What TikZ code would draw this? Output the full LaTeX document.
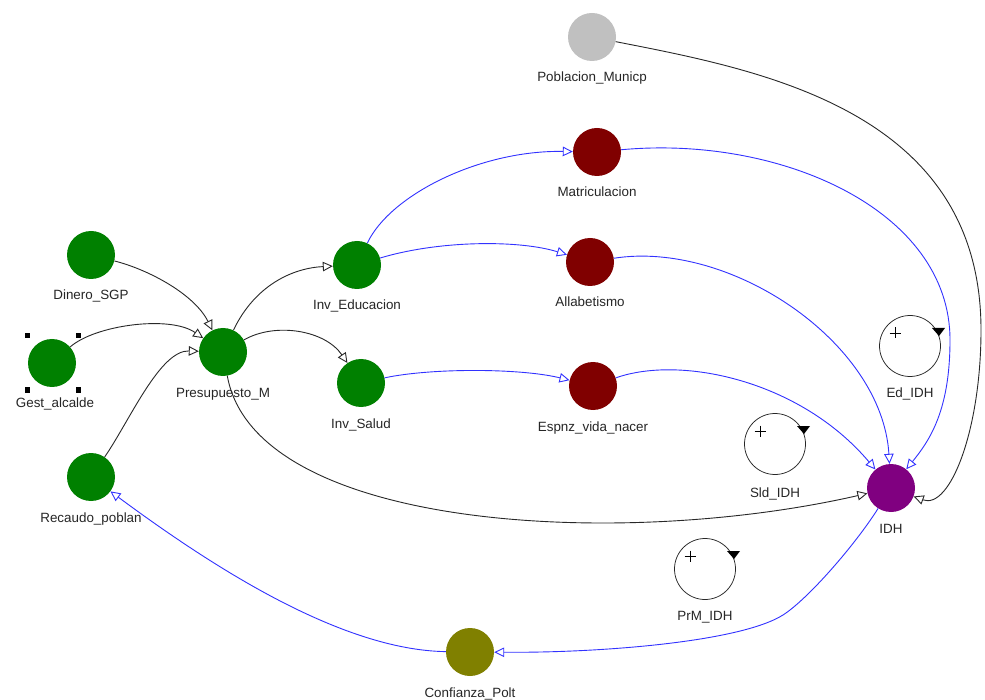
\documentclass[tikz,border=0pt]{standalone}
\usepackage{fontspec}
\setmainfont{Liberation Sans}
\usetikzlibrary{arrows.meta}

\definecolor{vargreen}{RGB}{0,128,0}
\definecolor{varred}{RGB}{128,0,0}
\definecolor{varpurple}{RGB}{128,0,128}
\definecolor{varolive}{RGB}{128,128,0}
\definecolor{vargray}{RGB}{192,192,192}
\definecolor{linkblue}{RGB}{50,50,255}
\definecolor{linkdark}{RGB}{40,40,40}

\tikzset{
  var/.style={circle, minimum size=48pt, inner sep=0pt, fill=#1},
  lbl/.style={anchor=base, inner sep=0pt, font=\fontsize{13.4}{15}\selectfont, text=black!85},
  link/.style={line width=0.9pt, draw=linkdark, -{Triangle[open,length=10pt,width=9.5pt]}},
  blink/.style={link, draw=linkblue},
  loopring/.style={circle, draw=black!85, line width=0.75pt, minimum size=61pt, inner sep=0pt},
}

% loop symbol: ring, plus sign and a filled arrow head at the upper right
\newcommand\feedbackloop[5]{%
  \node[loopring] (#1) at (#2,#3) {};
  \draw[line width=0.7pt] ([shift={(-20.5,-13)}]#1.center) -- ++(11,0);
  \draw[line width=0.7pt] ([shift={(-15,-18.5)}]#1.center) -- ++(0,11);
  \fill ([shift={(22,-18)}]#1.center) -- ++(13,0) -- ++(-6,8) -- cycle;
  \node[lbl] (#1-l) at (#2,#3+#4) {#5};
}

\begin{document}
\begin{tikzpicture}[x=1pt,y=-1pt]
\useasboundingbox (0,0) rectangle (985,700);
\fill[white] (0,0) rectangle (985,700);

% variables
\node[var=vargray]   (Poblacion) at (592,37) {};
\node[var=varred]    (Matric)    at (597,152) {};
\node[var=varred]    (Alfab)     at (590,262) {};
\node[var=varred]    (Espnz)     at (593,386) {};
\node[var=vargreen]  (Dinero)    at (91,255) {};
\node[var=vargreen]  (Gest)      at (52,363) {};
\node[var=vargreen]  (Presup)    at (223,352) {};
\node[var=vargreen]  (Recaudo)   at (91,477) {};
\node[var=vargreen]  (InvEdu)    at (357,265) {};
\node[var=vargreen]  (InvSalud)  at (361,383) {};
\node[var=varpurple] (IDH)       at (891,488) {};
\node[var=varolive]  (Confianza) at (470,652) {};

% names under the variables
\node[lbl] (Poblacion-l) at (592,82)  {Poblacion\_Municp};
\node[lbl] (Matric-l)    at (597,197) {Matriculacion};
\node[lbl] (Alfab-l)     at (590,307) {Allabetismo};
\node[lbl] (Espnz-l)     at (593,431) {Espnz\_vida\_nacer};
\node[lbl] (Dinero-l)    at (91,300)  {Dinero\_SGP};
\node[lbl] (Gest-l)      at (55,407)  {Gest\_alcalde};
\node[lbl] (Presup-l)    at (223,397) {Presupuesto\_M};
\node[lbl] (Recaudo-l)   at (91,522)  {Recaudo\_poblan};
\node[lbl] (InvEdu-l)    at (357,310) {Inv\_Educacion};
\node[lbl] (InvSalud-l)  at (361,428) {Inv\_Salud};
\node[lbl] (IDH-l)       at (891,533) {IDH};
\node[lbl] (Confianza-l) at (470,697) {Confianza\_Polt};

% selection handles around Gest_alcalde
\foreach \hx/\hy in {27/336, 78/336, 27/390, 78/390}
  \fill (\hx-2.5,\hy-2.5) rectangle ++(5,5);

% loop markers
\feedbackloop{EdIDH}{910}{346}{52}{Ed\_IDH}
\feedbackloop{SldIDH}{775}{444}{53}{Sld\_IDH}
\feedbackloop{PrMIDH}{705}{569}{51}{PrM\_IDH}

% budget links
\draw[link] (Dinero) .. controls (150,270) and (195,295) .. (Presup);
\draw[link] (Gest) .. controls (95,325) and (170,315) .. (Presup);
\draw[link] (Recaudo) .. controls (130,420) and (160,350) .. (Presup);
\draw[link] (Presup) .. controls (255,285) and (293,268) .. (InvEdu);
\draw[link] (Presup) .. controls (275,322) and (325,330) .. (InvSalud);
\draw[link] (Presup) .. controls (255,530) and (620,550) .. (IDH);

% investment to outcomes
\draw[blink] (InvEdu) .. controls (390,195) and (480,150) .. (Matric);
\draw[blink] (InvEdu) .. controls (440,240) and (520,240) .. (Alfab);
\draw[blink] (InvSalud) .. controls (430,368) and (520,368) .. (Espnz);

% outcomes to IDH
\draw[blink] (Matric) .. controls (780,135) and (950,210) .. (950,340)
                      .. controls (950,410) and (930,440) .. (IDH);
\draw[blink] (Alfab) .. controls (730,240) and (882,342) .. (IDH);
\draw[blink] (Espnz) .. controls (680,355) and (800,380) .. (IDH);
\draw[link] (Poblacion) .. controls (760,70) and (981,110) .. (981,330)
                        .. controls (981,430) and (950,510) .. (IDH);

% feedback through confidence
\draw[blink] (IDH) .. controls (855,545) and (808,599) .. (783,615)
                   .. controls (740,642) and (600,653) .. (Confianza);
\draw[blink] (Confianza) .. controls (340,650) and (210,565) .. (Recaudo);
\end{tikzpicture}
\end{document}
